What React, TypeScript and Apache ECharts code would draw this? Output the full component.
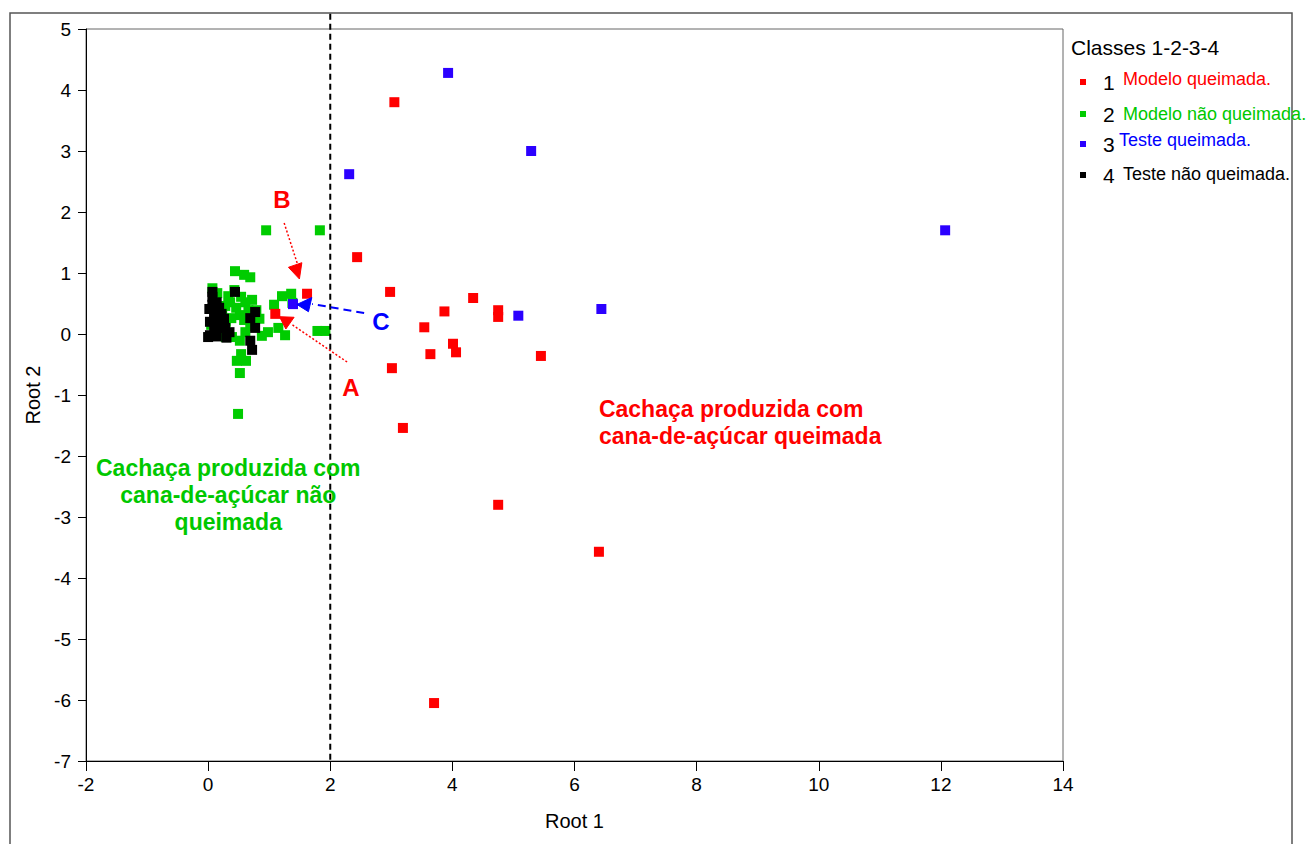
import React, { useEffect, useRef } from "react";
import * as echarts from "echarts";

const FONT = 'Arial, "Liberation Sans", Helvetica, sans-serif';

const xTicks = { min: -2, max: 14, interval: 2 };
const yTicks = { min: -7, max: 5, interval: 1 };

// Class 1 – Modelo queimada (red)
const class1: [number, number][] = [
  [3.05, 3.80], [2.44, 1.26], [2.98, 0.69], [4.34, 0.59], [3.87, 0.37],
  [4.75, 0.39], [4.75, 0.28], [3.54, 0.11], [4.01, -0.16], [4.06, -0.30],
  [3.64, -0.33], [5.45, -0.36], [3.01, -0.56], [3.19, -1.54], [4.75, -2.80],
  [6.40, -3.57], [3.70, -6.05], [1.62, 0.66], [1.10, 0.33],
];

// Class 2 – Modelo não queimada (green)
const class2: [number, number][] = [
  [0.95, 1.70], [1.83, 1.70], [0.44, 1.03], [0.59, 0.97], [0.69, 0.93],
  [0.07, 0.75], [0.15, 0.67], [1.21, 0.62], [1.36, 0.66], [1.08, 0.48],
  [1.38, 0.51], [0.54, 0.61], [0.61, 0.52], [0.36, 0.52], [0.28, 0.46],
  [0.46, 0.43], [0.66, 0.39], [0.23, 0.36], [0.52, 0.31], [0.38, 0.26],
  [0.59, 0.23], [0.29, 0.20], [0.84, 0.25], [0.69, 0.13], [1.15, 0.10],
  [0.98, 0.03], [0.88, -0.03], [1.26, -0.02], [1.79, 0.05], [1.92, 0.05],
  [0.61, 0.03], [0.39, -0.05], [0.29, -0.05], [0.16, 0.07], [0.05, 0.15],
  [0.54, -0.33], [0.47, -0.44], [0.62, -0.44], [0.52, -0.64], [0.49, -1.31],
  [0.79, 0.39], [0.43, 0.72], [0.33, 0.62], [0.72, 0.56], [0.20, 0.11],
  [0.52, -0.11],
];

// Class 3 – Teste queimada (blue)
const class3: [number, number][] = [
  [3.93, 4.28], [5.29, 3.00], [2.31, 2.62], [12.07, 1.70], [6.44, 0.41],
  [5.08, 0.30], [1.39, 0.49],
];

// Class 4 – Teste não queimada (black)
const class4: [number, number][] = [
  [0.44, 0.69], [0.07, 0.61], [0.07, 0.48], [0.77, 0.36], [0.69, 0.26],
  [0.77, 0.10], [0.69, -0.11], [0.72, -0.26], [0.03, -0.02], [0.10, 0.36],
  [0.10, 0.26], [0.18, 0.30], [0.22, 0.33], [0.17, 0.20], [0.24, 0.18],
  [0.10, 0.13], [0.20, 0.10], [0.35, 0.03], [0.13, 0.03], [0.03, 0.20],
  [0.02, 0.41], [0.18, 0.43], [0.14, 0.52], [0.07, 0.69], [0.0, -0.05],
  [0.14, -0.04], [0.30, -0.06], [0.26, 0.25], [0.28, 0.10],
];

const classNumbers = ["1", "2", "3", "4"];
const classLabels = ["Modelo queimada.", "Modelo não queimada.", "Teste queimada.", "Teste não queimada."];
const classColors = ["#ff0000", "#00cc00", "#2b00ff", "#000000"];
const classTextColors = ["#ff0000", "#00c800", "#0000ff", "#000000"];

const legendTitle = "Classes 1-2-3-4";
const greenNote = "Cachaça produzida com\ncana-de-açúcar não\nqueimada";
const redNote = "Cachaça produzida com\ncana-de-açúcar queimada";

// annotation anchors in data coordinates
const arrowB = { label: [1.21, 2.2], from: [1.245, 1.82], to: [1.458, 1.164], tri: [[1.315, 1.093], [1.535, 1.169], [1.495, 0.902]] };
const arrowA = { label: [2.34, -0.87], from: [2.276, -0.459], to: [1.359, 0.164], tri: [[1.168, 0.284], [1.408, 0.274], [1.273, 0.082]] };
const arrowC = { label: [2.83, 0.21], from: [2.555, 0.344], to: [1.703, 0.492], tri: [[1.453, 0.484], [1.698, 0.598], [1.643, 0.366]] };
const dividerX = 2;
const dividerTop = 5.25;

export default function App() {
  const ref = useRef<HTMLDivElement>(null);
  useEffect(() => {
    if (!ref.current) return;
    const chart = echarts.init(ref.current, undefined, { renderer: "svg" });
    const sq = (data: [number, number][], color: string, name: string) => ({
      type: "scatter",
      name,
      data,
      symbol: "rect",
      symbolSize: 10,
      itemStyle: { color, opacity: 1 },
      emphasis: { disabled: true },
    });
    chart.setOption({
      animation: false,
      textStyle: { fontFamily: FONT },
      grid: {
        left: 86, right: 246, top: 29, bottom: 83,
        show: true, borderColor: "#666", borderWidth: 1, backgroundColor: "transparent",
      },
      xAxis: {
        type: "value", min: xTicks.min, max: xTicks.max, interval: xTicks.interval,
        name: "Root 1", nameLocation: "middle", nameGap: 50,
        nameTextStyle: { fontSize: 20, color: "#000", fontFamily: FONT },
        axisLine: { onZero: false, lineStyle: { color: "#000", width: 1 } },
        axisTick: { length: 10, lineStyle: { color: "#000" } },
        axisLabel: { fontSize: 19, color: "#000", margin: 14, fontFamily: FONT },
        splitLine: { show: false },
      },
      yAxis: {
        type: "value", min: yTicks.min, max: yTicks.max, interval: yTicks.interval,
        name: "Root 2", nameLocation: "middle", nameGap: 40,
        nameTextStyle: { fontSize: 20, color: "#000", fontFamily: FONT },
        axisLine: { show: true, onZero: false, lineStyle: { color: "#000", width: 1 } },
        axisTick: { show: true, length: 8, lineStyle: { color: "#000" } },
        axisLabel: { fontSize: 19, color: "#000", margin: 15, fontFamily: FONT },
        splitLine: { show: false },
      },
      series: [
        sq(class2, classColors[1], classLabels[1]),
        sq(class4, classColors[3], classLabels[3]),
        sq(class1, classColors[0], classLabels[0]),
        sq(class3, classColors[2], classLabels[2]),
      ],
    });

    const px = (p: number[]) => chart.convertToPixel({ gridIndex: 0 }, p) as number[];
    const graphics: any[] = [];
    // outer frame
    graphics.push({
      type: "rect", shape: { x: 10, y: 13, width: 1282, height: 845 },
      style: { fill: "none", stroke: "#555", lineWidth: 1.5 }, silent: true, z: 0,
    });
    // dashed divider
    const dTop = px([dividerX, dividerTop]);
    const dBot = px([dividerX, yTicks.min]);
    graphics.push({
      type: "line", shape: { x1: dTop[0], y1: dTop[1], x2: dBot[0], y2: dBot[1] },
      style: { stroke: "#000", lineWidth: 2, lineDash: [6, 4] }, z: 5,
    });
    const arrows = [
      { a: arrowB, color: "#ff0000", dash: [2, 2], w: 1.5, text: "B" },
      { a: arrowA, color: "#ff0000", dash: [2, 2], w: 1.5, text: "A" },
      { a: arrowC, color: "#0000ff", dash: [8, 5], w: 2, text: "C" },
    ];
    arrows.forEach(({ a, color, dash, w, text }) => {
      const f = px(a.from), t = px(a.to), l = px(a.label);
      graphics.push({
        type: "line", shape: { x1: f[0], y1: f[1], x2: t[0], y2: t[1] },
        style: { stroke: color, lineWidth: w, lineDash: dash }, z: 20,
      });
      graphics.push({
        type: "polygon", shape: { points: a.tri.map((p) => px(p)) },
        style: { fill: color, stroke: color, lineWidth: 1 }, z: 20,
      });
      graphics.push({
        type: "text", x: l[0], y: l[1],
        style: { text, fill: color, font: `bold 24px ${FONT}`, align: "center", verticalAlign: "middle" }, z: 20,
      });
    });
    // region notes
    const g = px([0.33, -2.2]);
    graphics.push({
      type: "text", x: g[0], y: g[1] - 13.5,
      style: { text: greenNote, fill: "#00c800", font: `bold 23px ${FONT}`, align: "center", verticalAlign: "top", lineHeight: 27 }, z: 20,
    });
    const r = px([6.40, -1.23]);
    graphics.push({
      type: "text", x: r[0], y: r[1] - 13.5,
      style: { text: redNote, fill: "#ff0000", font: `bold 23px ${FONT}`, align: "left", verticalAlign: "top", lineHeight: 27 }, z: 20,
    });
    // legend
    graphics.push({
      type: "text", x: 1071, y: 47,
      style: { text: legendTitle, fill: "#000", font: `21px ${FONT}`, align: "left", verticalAlign: "middle" }, z: 20,
    });
    const rowY = [82, 114, 144, 175];
    const labelDy = [-3, 0, -4, -1];
    const labelX = [1123, 1123, 1119, 1123];
    classNumbers.forEach((n, i) => {
      graphics.push({
        type: "rect", shape: { x: 1080, y: rowY[i] - 3, width: 6, height: 6 },
        style: { fill: classColors[i] }, z: 20,
      });
      graphics.push({
        type: "text", x: 1103, y: rowY[i],
        style: { text: n, fill: "#000", font: `21px ${FONT}`, align: "left", verticalAlign: "middle" }, z: 20,
      });
      graphics.push({
        type: "text", x: labelX[i], y: rowY[i] + labelDy[i],
        style: { text: classLabels[i], fill: classTextColors[i], font: `18px ${FONT}`, align: "left", verticalAlign: "middle" }, z: 20,
      });
    });
    chart.setOption({ graphic: graphics });
    return () => chart.dispose();
  }, []);
  return (
    <div
      ref={ref}
      style={{ position: "fixed", left: 0, top: 0, width: 1309, height: 844, background: "#fff" }}
    />
  );
}
